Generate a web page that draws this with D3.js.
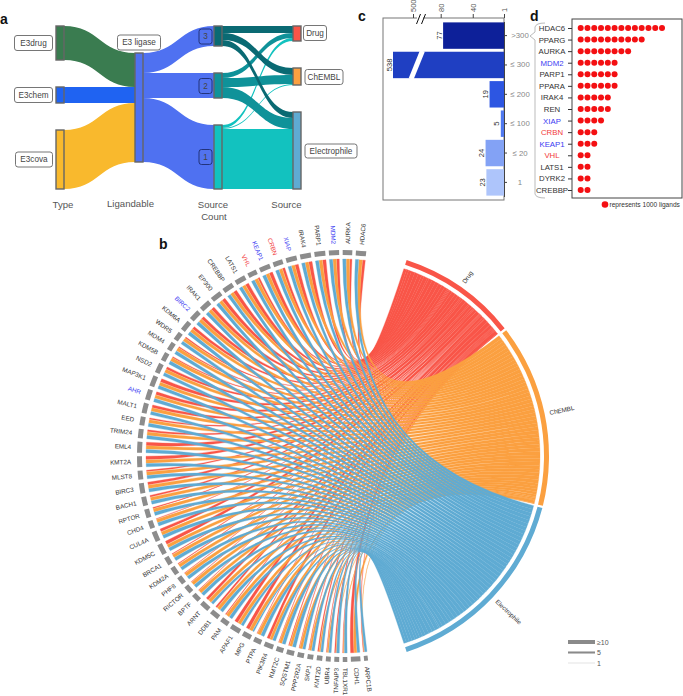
<!DOCTYPE html>
<html>
<head>
<meta charset="utf-8">
<script src="https://cdn.jsdelivr.net/npm/d3@7"></script>
<style>
html, body { margin: 0; padding: 0; background: #fff; }
svg { display: block; font-family: "Liberation Sans", Arial, sans-serif; }
</style>
</head>
<body>
<svg id="fig" width="683" height="696"></svg>
<script>
// panel a
var typeNames = ["E3drug", "E3chem", "E3cova"];
var typeValues = [34, 16, 59];
var countNames = ["3", "2", "1"];
var countValues = [20, 25, 64];
var sourceNames = ["Drug", "ChEMBL", "Electrophile"];
var sourceValues = [15, 17, 77];
// rows = source count 3,2,1 ; columns = Drug, ChEMBL, Electrophile
var countToSource = [[7, 7, 6], [5, 9, 11], [3, 1, 60]];

// panel b, clockwise from the bottom
var targets = ["ARPC1B", "CDH1", "TBL1XR1", "TNFAIP3", "UBR4", "KMT2D", "SKP1", "PPP2R2A", "SQSTM1", "KMT2C",
	"PIK3R4", "PTPA", "MPG", "APAF1", "PAM", "DDB1", "ARNT", "BPTF", "RICTOR", "PHF8",
	"KDM2A", "BRCA1", "KDM5C", "CUL4A", "CHD4", "RPTOR", "BACH1", "BIRC3", "MLST8", "KMT2A",
	"EML4", "TRIM24", "EED", "MALT1", "AHR", "MAP3K1", "NSD2", "KDM5B", "MDM4", "WDR5",
	"KDM6A", "BIRC2", "IRAK1", "EP300", "CREBBP", "LATS1", "VHL", "KEAP1", "CRBN", "XIAP",
	"IRAK4", "PARP1", "MDM2", "AURKA", "HDAC6"];
var drugLinks = [1, 10, 1, 3, 1, 3, 1, 1, 2, 1,
	8, 1, 10, 10, 2, 5, 8, 1, 1, 1,
	2, 2, 10, 8, 1, 3, 5, 8, 4, 10,
	10, 5, 4, 8, 9, 10, 7, 3, 3, 3,
	8, 9, 10, 10, 10, 10, 5, 10, 7, 10,
	10, 10, 8, 6, 8];
var chemblLinks = [1, 8, 2, 1, 4, 4, 6, 8, 8, 8,
	8, 10, 10, 10, 10, 10, 10, 10, 10, 10,
	10, 10, 10, 10, 10, 10, 10, 10, 10, 10,
	10, 10, 10, 10, 10, 10, 10, 10, 10, 10,
	10, 10, 10, 10, 10, 10, 10, 10, 10, 10,
	10, 10, 10, 10, 10];
var electroLinks = [7, 8, 8, 8, 7, 7, 8, 8, 10, 10,
	9, 10, 4, 8, 10, 10, 8, 10, 10, 10,
	10, 10, 10, 10, 10, 10, 10, 10, 10, 10,
	10, 10, 10, 10, 10, 10, 10, 10, 10, 10,
	10, 10, 10, 10, 10, 10, 10, 10, 10, 10,
	10, 10, 10, 10, 10];
var blueTargets = ["AHR", "BIRC2", "KEAP1", "XIAP", "MDM2"];
var redTargets = ["VHL", "CRBN"];
var widthLegend = [10, 5, 1];

// panel c
var bins = [">300", "≤ 300", "≤ 200", "≤ 100", "≤ 20", "1"];
var binValues = [77, 538, 19, 5, 24, 23];
var cTicks = [1, 40, 80, 500];

// panel d
var topTargets = ["HDAC6", "PPARG", "AURKA", "MDM2", "PARP1", "PPARA", "IRAK4", "REN", "XIAP", "CRBN", "KEAP1", "VHL", "LATS1", "DYRK2", "CREBBP"];
var topCounts = [13, 10, 8, 6, 6, 6, 5, 5, 4, 3, 3, 2, 2, 2, 2];

var svg = d3.select("#fig");
var sourceColors = ["#f95548", "#fba040", "#5fabd3"];

function labelColor(name) {
	if (blueTargets.indexOf(name) >= 0) return "#3b3bf2";
	if (redTargets.indexOf(name) >= 0) return "#f23a3a";
	return "#333";
}

svg.selectAll(".panel-letter")
	.data([["a", 0, 24], ["b", 159, 249], ["c", 358, 21], ["d", 530, 21]])
	.enter()
	.append("text")
	.attr("class", "panel-letter")
	.attr("x", d => d[1])
	.attr("y", d => d[2])
	.attr("font-size", 14)
	.attr("font-weight", "bold")
	.attr("fill", "#111")
	.text(d => d[0]);

// ---------- panel a: alluvial ----------
var gA = svg.append("g");
var nodeGap = 27, nodeW = 8, topY = 26;
var colX = [56, 135, 214, 293];
var h = d3.scaleLinear().domain([0, 109]).range([0, 109]);

// stack a column of nodes from its values
function stack(values) {
	var y = topY, out = [];
	for (var i = 0; i < values.length; i++) {
		out.push({y0: y, y1: y + h(values[i])});
		y += h(values[i]) + nodeGap;
	}
	return out;
}
var typeNodes = stack(typeValues);
var countNodes = stack(countValues);
var sourceNodes = stack(sourceValues);
var ligase = {y0: 53, y1: 53 + h(d3.sum(typeValues))};
var ligaseIn = ligase.y0, ligaseOut = ligase.y0;

function band(x0, y0, x1, y1, w, color) {
	var p = d3.path(), m = (x0 + x1) / 2;
	p.moveTo(x0, y0);
	p.bezierCurveTo(m, y0, m, y1, x1, y1);
	p.lineTo(x1, y1 + w);
	p.bezierCurveTo(m, y1 + w, m, y0 + w, x0, y0 + w);
	p.closePath();
	gA.append("path").attr("d", p.toString()).attr("fill", color);
}

var typeColors = ["#3a7c50", "#1f63f2", "#f9b92d"];
typeValues.forEach(function(v, i) {
	band(colX[0] + nodeW, typeNodes[i].y0, colX[1], ligaseIn, h(v), typeColors[i]);
	ligaseIn += h(v);
});
countValues.forEach(function(v, i) {
	band(colX[1] + nodeW, ligaseOut, colX[2], countNodes[i].y0, h(v), "#4f71f1");
	ligaseOut += h(v);
});
var countColors = ["#0a6a73", "#0f9299", "#12c2bf"];
[2, 1, 0].forEach(function(i) {
	var yOut = countNodes[i].y0;
	for (var k = 0; k < 3; k++) {
		var v = h(countToSource[i][k]);
		var yIn = sourceNodes[k].y0;
		for (var j = 0; j < i; j++) yIn += h(countToSource[j][k]);
		band(colX[2] + nodeW, yOut, colX[3], yIn, v, countColors[i]);
		yOut += v;
	}
});

function nodeRect(x, n, color) {
	gA.append("rect")
		.attr("x", x).attr("y", n.y0)
		.attr("width", nodeW).attr("height", n.y1 - n.y0)
		.attr("fill", color)
		.attr("stroke", "#666")
		.attr("stroke-width", 1.4);
}
typeNodes.forEach((n, i) => nodeRect(colX[0], n, typeColors[i]));
nodeRect(colX[1], ligase, "#4f71f1");
countNodes.forEach((n, i) => nodeRect(colX[2], n, countColors[i]));
sourceNodes.forEach((n, i) => nodeRect(colX[3], n, sourceColors[i]));

function tag(txt, cx, cy, w, ht, fill, stroke, size) {
	gA.append("rect")
		.attr("x", cx - w / 2).attr("y", cy - ht / 2)
		.attr("width", w).attr("height", ht)
		.attr("rx", 2.5).attr("ry", 2.5)
		.attr("fill", fill)
		.attr("stroke", stroke)
		.attr("stroke-width", 0.9);
	gA.append("text")
		.attr("x", cx).attr("y", cy + size * 0.36)
		.attr("text-anchor", "middle")
		.attr("font-size", size)
		.attr("fill", "#444")
		.text(txt);
}
tag(typeNames[0], 33.5, 43, 38, 15, "#fff", "#666", 8.2);
tag(typeNames[1], 33.5, 95, 38, 15, "#fff", "#666", 8.2);
tag(typeNames[2], 34, 159.5, 37, 15, "#fff", "#666", 8.2);
tag("E3 ligase", 139, 42.5, 43, 15, "#fff", "#666", 8.2);
tag(countNames[0], 205.5, 36.5, 13, 15, "#5273ef", "#1d2c6e", 8.2);
tag(countNames[1], 205.5, 86, 13, 15, "#5273ef", "#1d2c6e", 8.2);
tag(countNames[2], 205.5, 157, 13, 15, "#5273ef", "#1d2c6e", 8.2);
tag(sourceNames[0], 315, 33, 23, 15, "#fff", "#666", 8.2);
tag(sourceNames[1], 324, 77, 38, 15, "#fff", "#666", 8.2);
tag(sourceNames[2], 331, 151, 52, 14, "#fff", "#666", 8.2);

[["Type", 63, 208], ["Ligandable", 130.5, 207], ["Source", 213, 208], ["Count", 214, 220], ["Source", 286.5, 208]].forEach(function(d) {
	gA.append("text")
		.attr("x", d[1]).attr("y", d[2])
		.attr("text-anchor", "middle")
		.attr("font-size", 9.6)
		.attr("fill", "#555")
		.text(d[0]);
});

// ---------- panel b: chord ----------
var cx = 343, cy = 456, rChord = 197, rIn = 201, rOut = 206;
var rad = Math.PI / 180;
var gB = svg.append("g").attr("transform", "translate(" + cx + "," + cy + ")");
var chordLinks = [drugLinks, chemblLinks, electroLinks];

var sourceSpans = [[18, 51.7], [52.4, 104], [104.6, 162]];
var targetSpan = [173, 366.5];
var segGap = 1, innerGap = 0.12;

var totalUnits = 0;
targets.forEach(function(t, i) {
	totalUnits += drugLinks[i] + chemblLinks[i] + electroLinks[i];
});
var unit = (targetSpan[1] - targetSpan[0] - segGap * (targets.length - 1) - innerGap * 2 * targets.length) / totalUnits;

// target end of each chord, electrophile first going clockwise
var tarAngles = [];
var a = targetSpan[0];
targets.forEach(function(t, i) {
	var start = a;
	var parts = [];
	[2, 1, 0].forEach(function(s) {
		var w = chordLinks[s][i] * unit;
		parts[s] = [a, a + w];
		a += w + innerGap;
	});
	a -= innerGap;
	tarAngles.push({start: start, end: a, parts: parts});
	a += segGap;
});

var ribbon = d3.ribbon().radius(rChord);
var arc = d3.arc().innerRadius(rIn).outerRadius(rOut);

[0, 1, 2].forEach(function(s) {
	var scale = d3.scaleLinear()
		.domain([0, d3.sum(chordLinks[s])])
		.range(sourceSpans[s]);
	var run = 0;
	var chords = [];
	for (var i = targets.length - 1; i >= 0; i--) {
		chords.push({
			source: {startAngle: scale(run) * rad, endAngle: scale(run + chordLinks[s][i]) * rad},
			target: {startAngle: tarAngles[i].parts[s][0] * rad, endAngle: tarAngles[i].parts[s][1] * rad}
		});
		run += chordLinks[s][i];
	}
	// thin stroke closes the seams where neighbouring chords touch
	gB.selectAll(".chord-" + s)
		.data(chords)
		.enter()
		.append("path")
		.attr("class", "chord-" + s)
		.attr("d", ribbon)
		.attr("fill", sourceColors[s])
		.attr("stroke", sourceColors[s])
		.attr("stroke-width", 0.3);

	gB.append("path")
		.attr("d", arc({startAngle: sourceSpans[s][0] * rad, endAngle: sourceSpans[s][1] * rad}))
		.attr("fill", sourceColors[s]);

	var mid = (sourceSpans[s][0] + sourceSpans[s][1]) / 2;
	gB.append("text")
		.attr("transform", "rotate(" + (mid - 90) + ") translate(" + (rOut + 5) + ",0)")
		.attr("dy", "0.35em")
		.attr("font-size", 6.3)
		.attr("fill", "#333")
		.text(sourceNames[s]);
});

gB.selectAll(".target-seg")
	.data(tarAngles)
	.enter()
	.append("path")
	.attr("class", "target-seg")
	.attr("d", d => arc({startAngle: d.start * rad, endAngle: d.end * rad}))
	.attr("fill", "#8c8c8c");

// labels read outwards on the right of the centre, inwards on the left
function onRight(d) {
	var m = (d.start + d.end) / 2;
	return m < 180 || m > 360;
}
gB.selectAll(".target-label")
	.data(tarAngles)
	.enter()
	.append("text")
	.attr("class", "target-label")
	.attr("transform", function(d) {
		var m = (d.start + d.end) / 2;
		if (onRight(d)) return "rotate(" + (m - 90) + ") translate(" + (rOut + 6) + ",0)";
		return "rotate(" + (m + 90) + ") translate(" + (-(rOut + 6)) + ",0)";
	})
	.attr("dy", "0.35em")
	.attr("text-anchor", d => onRight(d) ? "start" : "end")
	.attr("font-size", 6.3)
	.attr("fill", (d, i) => labelColor(targets[i]))
	.text((d, i) => targets[i]);

var legendW = d3.scaleLinear().domain([1, 10]).range([0.5, 4]);
var legendY = d3.scalePoint().domain(widthLegend).range([642, 663]);
svg.selectAll(".width-line")
	.data(widthLegend)
	.enter()
	.append("line")
	.attr("class", "width-line")
	.attr("x1", 568).attr("x2", 595)
	.attr("y1", d => legendY(d)).attr("y2", d => legendY(d))
	.attr("stroke", d => d == 1 ? "#c4c4c4" : "#8a8a8a")
	.attr("stroke-width", d => legendW(d));
svg.selectAll(".width-text")
	.data(widthLegend)
	.enter()
	.append("text")
	.attr("class", "width-text")
	.attr("x", 597)
	.attr("y", d => legendY(d) + 2.5)
	.attr("font-size", 7)
	.attr("fill", "#555")
	.text(d => d == 10 ? "≥10" : d);

// ---------- panel c: bars with a broken axis ----------
var gC = svg.append("g");
var xC = d3.scaleLinear().domain([1, 80, 500, 538]).range([504, 440.7, 413, 393]);
var yC = d3.scaleBand().domain(bins).range([21.5, 196.5]).paddingInner(0.1).paddingOuter(0.03);
var barColors = ["#0d2099", "#1f3fc2", "#2d56e2", "#5079f0", "#83a2f5", "#aec5fb"];

gC.append("rect")
	.attr("x", 383).attr("y", 18)
	.attr("width", 121).attr("height", 182)
	.attr("fill", "none")
	.attr("stroke", "#777")
	.attr("stroke-width", 1);

gC.selectAll(".bar")
	.data(bins)
	.enter()
	.append("rect")
	.attr("class", "bar")
	.attr("x", (d, i) => xC(binValues[i]))
	.attr("y", d => yC(d))
	.attr("width", (d, i) => xC(1) - xC(binValues[i]))
	.attr("height", yC.bandwidth())
	.attr("fill", (d, i) => barColors[i]);

gC.selectAll(".bar-value")
	.data(bins)
	.enter()
	.append("text")
	.attr("class", "bar-value")
	.attr("transform", (d, i) => "translate(" + (xC(binValues[i]) - 1.5) + "," + (yC(d) + yC.bandwidth() / 2) + ") rotate(-90)")
	.attr("text-anchor", "middle")
	.attr("font-size", 7.6)
	.attr("fill", "#333")
	.text((d, i) => binValues[i]);

// break marks
var breakX = 421;
gC.append("line")
	.attr("x1", breakX + 1.5).attr("y1", yC(bins[1]) - 1)
	.attr("x2", breakX - 10).attr("y2", yC(bins[1]) + yC.bandwidth() + 1)
	.attr("stroke", "#fff")
	.attr("stroke-width", 5);
gC.append("rect").attr("x", breakX - 4).attr("y", 16).attr("width", 6).attr("height", 4).attr("fill", "#fff");
[-2.5, 2.5].forEach(function(o) {
	gC.append("line")
		.attr("x1", breakX + o - 2).attr("y1", 24)
		.attr("x2", breakX + o + 2).attr("y2", 14)
		.attr("stroke", "#111")
		.attr("stroke-width", 1);
});

var topAxis = gC.append("g")
	.attr("transform", "translate(0,18)")
	.call(d3.axisTop(xC).tickValues(cTicks).tickSize(4).tickSizeOuter(0));
topAxis.select(".domain").remove();
topAxis.selectAll("line").attr("stroke", "#444");
topAxis.selectAll("text")
	.attr("transform", "rotate(-90)")
	.attr("x", 6).attr("y", 2.5).attr("dy", 0)
	.attr("text-anchor", "start")
	.attr("font-family", "Liberation Sans")
	.attr("font-size", 7.5)
	.attr("fill", "#555");

var rightAxis = gC.append("g")
	.attr("transform", "translate(504,0)")
	.call(d3.axisRight(yC).tickSize(3).tickSizeOuter(0));
rightAxis.select(".domain").attr("stroke", "#444");
rightAxis.selectAll("line").attr("stroke", "#444");
rightAxis.selectAll("text")
	.attr("x", 16)
	.attr("text-anchor", "middle")
	.attr("font-family", "Liberation Sans")
	.attr("font-size", 7.8)
	.attr("fill", "#888");

// bracket between c and d
svg.append("path")
	.attr("d", "M545,23 Q536,23 535,27 L535,32 L530,36 L535,40 L535,194 Q536,198 545,198")
	.attr("fill", "none")
	.attr("stroke", "#bbb")
	.attr("stroke-width", 1);

// ---------- panel d: dots ----------
var gD = svg.append("g");
var yD = d3.scalePoint().domain(topTargets).range([28, 190]);
var xD = d3.scaleLinear().domain([0, 12]).range([580.7, 662]);

gD.append("rect")
	.attr("x", 572).attr("y", 19)
	.attr("width", 110).attr("height", 179)
	.attr("fill", "none")
	.attr("stroke", "#444")
	.attr("stroke-width", 1);

var rows = gD.selectAll(".dot-row")
	.data(topTargets)
	.enter()
	.append("g")
	.attr("class", "dot-row")
	.attr("transform", d => "translate(0," + yD(d) + ")");
rows.selectAll("circle")
	.data((d, i) => d3.range(topCounts[i]))
	.enter()
	.append("circle")
	.attr("cx", d => xD(d))
	.attr("cy", 0)
	.attr("r", 3)
	.attr("fill", "#f40f12");

var leftAxis = gD.append("g")
	.attr("transform", "translate(572,0)")
	.call(d3.axisLeft(yD).tickSize(4).tickSizeOuter(0));
leftAxis.select(".domain").remove();
leftAxis.selectAll("line").attr("stroke", "#333");
leftAxis.selectAll("text")
	.attr("x", -20)
	.attr("text-anchor", "middle")
	.attr("font-family", "Liberation Sans")
	.attr("font-size", 7.8)
	.attr("fill", d => labelColor(d));

gD.append("circle").attr("cx", 605).attr("cy", 204.5).attr("r", 3.3).attr("fill", "#f40f12");
gD.append("text")
	.attr("x", 609.5).attr("y", 207)
	.attr("font-size", 6.6)
	.attr("fill", "#333")
	.text("represents 1000 ligands");
</script>
</body>
</html>
